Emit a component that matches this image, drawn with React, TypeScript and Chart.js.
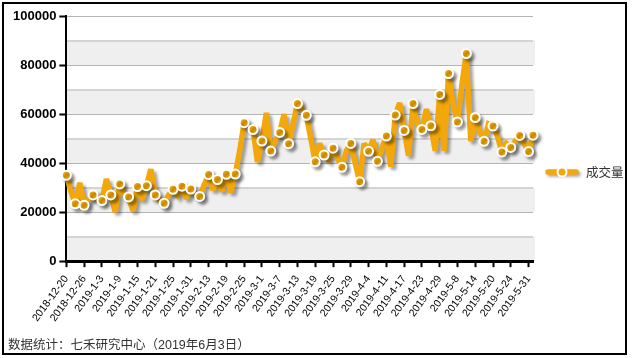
import React, { useEffect, useRef } from "react";
import { Chart, registerables } from "chart.js";

Chart.register(...registerables);

const categories: string[] = [
  "2018-12-20", "2018-12-21", "2018-12-24", "2018-12-25", "2018-12-26", "2018-12-27", "2018-12-28", "2019-1-2",
  "2019-1-3", "2019-1-4", "2019-1-7", "2019-1-8", "2019-1-9", "2019-1-10", "2019-1-11", "2019-1-14",
  "2019-1-15", "2019-1-16", "2019-1-17", "2019-1-18", "2019-1-21", "2019-1-22", "2019-1-23", "2019-1-24",
  "2019-1-25", "2019-1-28", "2019-1-29", "2019-1-30", "2019-1-31", "2019-2-1", "2019-2-11", "2019-2-12",
  "2019-2-13", "2019-2-14", "2019-2-15", "2019-2-18", "2019-2-19", "2019-2-20", "2019-2-21", "2019-2-22",
  "2019-2-25", "2019-2-26", "2019-2-27", "2019-2-28", "2019-3-1", "2019-3-4", "2019-3-5", "2019-3-6",
  "2019-3-7", "2019-3-8", "2019-3-11", "2019-3-12", "2019-3-13", "2019-3-14", "2019-3-15", "2019-3-18",
  "2019-3-19", "2019-3-20", "2019-3-21", "2019-3-22", "2019-3-25", "2019-3-26", "2019-3-27", "2019-3-28",
  "2019-3-29", "2019-4-1", "2019-4-2", "2019-4-3", "2019-4-4", "2019-4-8", "2019-4-9", "2019-4-10",
  "2019-4-11", "2019-4-12", "2019-4-15", "2019-4-16", "2019-4-17", "2019-4-18", "2019-4-19", "2019-4-22",
  "2019-4-23", "2019-4-24", "2019-4-25", "2019-4-26", "2019-4-29", "2019-4-30", "2019-5-6", "2019-5-7",
  "2019-5-8", "2019-5-9", "2019-5-10", "2019-5-13", "2019-5-14", "2019-5-15", "2019-5-16", "2019-5-17",
  "2019-5-20", "2019-5-21", "2019-5-22", "2019-5-23", "2019-5-24", "2019-5-28", "2019-5-29", "2019-5-30",
  "2019-5-31", "2019-6-3",
];

const volume: number[] = [
  35000, 28500, 23400, 32000, 22800, 25000, 27000, 25500,
  24700, 33500, 27000, 20000, 31500, 27500, 26200, 20500,
  30400, 25000, 30800, 37500, 27000, 25000, 23600, 27000,
  29300, 27000, 30600, 25500, 29400, 27500, 26400, 31000,
  35300, 29000, 33300, 28500, 35400, 28000, 35500, 45000,
  56500, 55000, 53700, 40500, 49000, 60500, 44900, 49000,
  52500, 60000, 47900, 56000, 64300, 62000, 59500, 50000,
  40500, 48000, 43300, 41500, 46100, 42000, 38300, 45000,
  48000, 40000, 32400, 48000, 44800, 49500, 40700, 46000,
  51000, 38500, 59600, 64500, 53300, 43000, 64300, 56000,
  53700, 62000, 55200, 45000, 68000, 45000, 76500, 64000,
  56800, 72000, 84700, 49000, 58600, 53000, 48900, 56000,
  55100, 51000, 44500, 48000, 46400, 49000, 51300, 48000,
  44700, 51400,
];

const seriesName = "成交量";
const yTickStep = 10000;
const yLabelStep = 20000;
const yMax = 100000;
const xLabelEvery = 4;

const ORANGE = "#F3A70A";

export default function App() {
  const ref = useRef<HTMLCanvasElement | null>(null);

  useEffect(() => {
    if (!ref.current) return;

    const bands = {
      id: "bands",
      beforeDraw(chart: any) {
        const { ctx, chartArea } = chart;
        const y = chart.scales.y;
        ctx.save();
        for (let v = 0; v < yMax; v += yTickStep) {
          const idx = v / yTickStep;
          if (idx % 2 === 0) {
            const top = y.getPixelForValue(v + yTickStep);
            const bot = y.getPixelForValue(v);
            ctx.fillStyle = "#efefef";
            ctx.fillRect(chartArea.left, top, chartArea.right - chartArea.left + 2, bot - top);
          }
        }
        ctx.restore();
      },
    };

    const shadow = {
      id: "shadow",
      beforeDatasetDraw(chart: any) {
        const ctx = chart.ctx;
        ctx.save();
        ctx.miterLimit = 2.2;
        ctx.shadowColor = "rgba(0,0,0,0.35)";
        ctx.shadowBlur = 3;
        ctx.shadowOffsetX = 3;
        ctx.shadowOffsetY = 3;
      },
      afterDatasetDraw(chart: any) {
        chart.ctx.restore();
      },
    };

    const legend = {
      id: "customLegend",
      afterDraw(chart: any) {
        const { ctx, chartArea } = chart;
        const x0 = chartArea.right + 15;
        const yc = 172;
        ctx.save();
        ctx.shadowColor = "rgba(0,0,0,0.35)";
        ctx.shadowBlur = 3;
        ctx.shadowOffsetX = 2;
        ctx.shadowOffsetY = 2;
        ctx.strokeStyle = ORANGE;
        ctx.lineWidth = 5.5;
        ctx.lineCap = "round";
        ctx.beginPath();
        ctx.moveTo(x0, yc);
        ctx.lineTo(x0 + 28, yc);
        ctx.stroke();
        ctx.shadowColor = "transparent";
        ctx.beginPath();
        ctx.arc(x0 + 14, yc, 4.5, 0, Math.PI * 2);
        ctx.fillStyle = ORANGE;
        ctx.fill();
        ctx.lineWidth = 2;
        ctx.strokeStyle = "#fff";
        ctx.stroke();
        ctx.fillStyle = "#333";
        ctx.font = '12.5px "Noto Sans CJK SC", sans-serif';
        ctx.textBaseline = "middle";
        ctx.textAlign = "left";
        ctx.fillText(seriesName, x0 + 38, yc + 0.5);
        ctx.restore();
      },
    };

    const chart = new Chart(ref.current, {
      type: "line",
      data: {
        labels: categories,
        datasets: [
          {
            label: seriesName,
            data: volume,
            borderColor: ORANGE,
            backgroundColor: ORANGE,
            borderWidth: 5.5,
            borderJoinStyle: "miter",
            tension: 0,
            fill: false,
            clip: false as any,
            pointRadius: (c: any) => (c.dataIndex % 2 === 0 || c.dataIndex === volume.length - 1 ? 4.5 : 0),
            pointBackgroundColor: ORANGE,
            pointBorderColor: "#fff",
            pointBorderWidth: 2,
            pointHoverRadius: 0,
          },
        ],
      },
      options: {
        responsive: false,
        animation: false,
        events: [],
        layout: { padding: { left: 10, right: 99, top: 16, bottom: 28 } },
        plugins: {
          legend: { display: false },
          tooltip: { enabled: false },
        },
        scales: {
          x: {
            offset: false,
            grid: {
              drawOnChartArea: false,
              drawTicks: true,
              tickLength: 6,
              tickWidth: 2,
              tickColor: (c: any) => (c.index % xLabelEvery === 0 ? "#000" : "rgba(0,0,0,0)"),
            },
            border: { display: true, color: "#000", width: 3 },
            ticks: {
              autoSkip: false,
              maxRotation: 54,
              minRotation: 54,
              padding: 6,
              color: "#000",
              font: { family: "Arial, 'Liberation Sans'", size: 10.5 },
              callback: (_v: any, i: number) => (i % xLabelEvery === 0 ? categories[i] : ""),
            },
          },
          y: {
            min: 0,
            max: yMax,
            grid: {
              color: (c: any) => (c.tick && c.tick.value % yLabelStep === 0 ? "#b4b4b4" : "#d4d4d4"),
              lineWidth: (c: any) => (c.tick && c.tick.value % yLabelStep === 0 ? 1 : 2),
              tickLength: 7,
              tickWidth: 2,
              tickColor: (c: any) => (c.tick && c.tick.value % yLabelStep === 0 ? "#000" : "rgba(0,0,0,0)"),
            },
            border: { display: true, color: "#000", width: 2 },
            ticks: {
              stepSize: yTickStep,
              padding: 3,
              color: "#000",
              font: { family: "Arial, 'Liberation Sans'", size: 13, weight: "bold" },
              callback: (v: any) => (Number(v) % yLabelStep === 0 ? String(v) : ""),
            },
          },
        },
      },
      plugins: [bands, shadow, legend],
    });

    return () => chart.destroy();
  }, []);

  return (
    <div style={{ position: "fixed", left: 0, top: 0, width: 632, height: 358, background: "#fff", overflow: "hidden" }}>
      <canvas ref={ref} width={632} height={358} style={{ position: "absolute", left: 0, top: 0 }} />
      <div
        style={{
          position: "absolute",
          left: 2,
          top: 2,
          width: 625,
          height: 353,
          boxSizing: "border-box",
          border: "2px solid #000",
          pointerEvents: "none",
        }}
      />
      <div
        style={{
          position: "absolute",
          left: 8,
          top: 338,
          fontSize: 12.5,
          lineHeight: "14px",
          color: "#333",
          fontFamily: "Arial, 'Liberation Sans', 'Noto Sans CJK SC', sans-serif",
          whiteSpace: "nowrap",
        }}
      >
        数据统计：七禾研究中心（2019年6月3日）
      </div>
    </div>
  );
}
